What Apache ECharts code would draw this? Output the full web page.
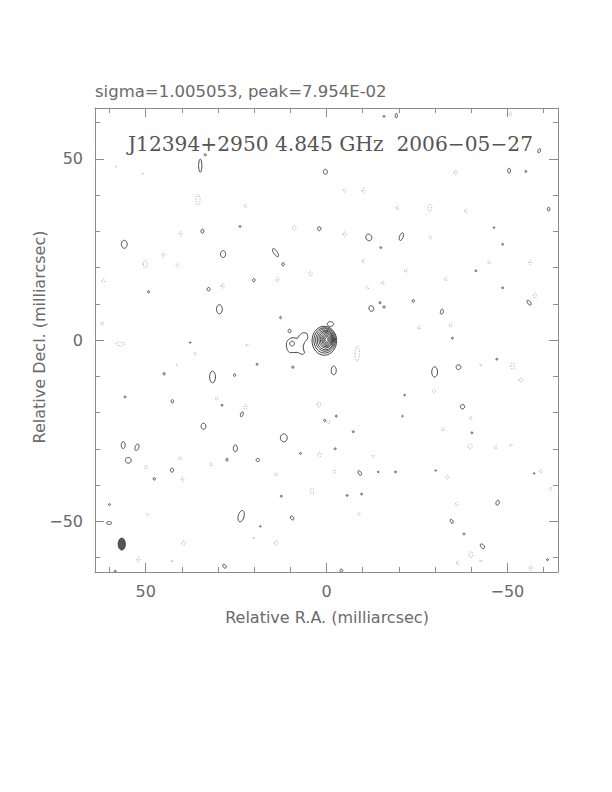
<!DOCTYPE html>
<html><head><meta charset="utf-8">
<script src="https://cdn.jsdelivr.net/npm/echarts@6/dist/echarts.min.js"></script>
<style>html,body{margin:0;padding:0;background:#fff}#c{width:612px;height:792px}</style>
</head><body><div id="c"></div>
<script>
// ---- data (milliarcsec) ----
const axisRange = [-64, 64];
const minorTicks = [-60, -50, -40, -30, -20, -10, 0, 10, 20, 30, 40, 50, 60];
const majorTicks = [-50, 0, 50];
const headerText = 'sigma=1.005053, peak=7.954E-02';
const titleText = 'J12394+2950 4.845 GHz  2006\u221205\u221227';
const xAxisTitle = 'Relative R.A. (milliarcsec)';
const yAxisTitle = 'Relative Decl. (milliarcsec)';

// core contour rings: [RA, Dec, semiRA, semiDec]
const coreRings = [
  [0.6, -0.2, 3.4, 4.0], [0.5, -0.1, 3.0, 3.5], [0.4, 0.0, 2.6, 3.1],
  [0.3, 0.0, 2.25, 2.7], [0.2, 0.1, 1.9, 2.3], [0.1, 0.1, 1.6, 1.95],
  [0.0, 0.1, 1.3, 1.6], [0.0, 0.1, 1.0, 1.25], [0.0, 0.1, 0.7, 0.9], [0.0, 0.1, 0.4, 0.5]
];
// jet outer contour (RA, Dec)
const jetOutline = [
  [5.35, 1.75], [6.29, 2.03], [7.39, 1.38], [8.12, 0.46], [9.23, 0.64], [10.43, 0.18],
  [11.08, -1.01], [10.89, -2.58], [9.97, -3.5], [8.12, -3.41], [6.73, -3.96], [6.09, -3.5],
  [6.46, -2.12], [6.09, -0.74], [5.17, 0.64], [5.35, 1.75]
];
// positive contour blobs: [RA, Dec, semiRA, semiDec, tiltDeg]
const positiveBlobs = [
  [9.5, -1.0, 0.65, 0.65, 0], [-1.1, 4.4, 0.9, 0.65, 0], [10.2, 2.5, 0.4, 0.5, 0],
  [34.9, 48.1, 0.45, 1.8, 0], [33.5, 51.1, 0.3, 0.3, 0], [0.3, 46.4, 0.55, 0.7, 0],
  [34.3, 30.0, 0.4, 0.55, 0], [23.9, 31.3, 0.25, 0.25, 0], [2.0, 30.7, 0.45, 0.55, 0],
  [55.9, 26.4, 0.8, 1.1, 0], [28.6, 23.7, 0.7, 0.95, 0], [14.1, 24.1, 0.5, 1.3, -35],
  [12.0, 20.9, 0.35, 0.45, 0], [20.1, 16.5, 0.35, 0.45, 0], [32.6, 14.0, 0.4, 0.5, 0],
  [49.2, 13.3, 0.25, 0.3, 0], [29.6, 8.5, 0.8, 1.25, 0], [12.7, 6.2, 0.25, 0.3, 0],
  [-15.9, 61.7, 0.25, 0.25, 0], [-19.3, 61.9, 0.3, 0.6, 0], [-58.8, 52.2, 0.35, 0.6, 20],
  [-50.5, 46.7, 0.4, 0.65, 0], [-55.1, 46.5, 0.25, 0.25, 0], [-61.4, 36.1, 0.35, 0.5, 0],
  [-11.7, 28.3, 0.8, 0.95, -20], [-20.7, 28.5, 0.5, 1.1, 20], [-15.0, 25.5, 0.25, 0.25, 0],
  [-46.3, 31.0, 0.2, 0.2, 0], [-48.7, 26.4, 0.25, 0.25, 0], [-41.3, 19.1, 0.25, 0.25, 0],
  [-48.7, 14.4, 0.25, 0.25, 0], [-24.0, 10.8, 0.35, 0.35, 0], [-56.0, 10.3, 0.4, 0.8, -35],
  [-12.4, 8.7, 0.65, 0.8, -20], [-14.8, 10.3, 0.25, 0.3, 0], [-15.9, 9.1, 0.25, 0.35, 0],
  [-31.9, 7.8, 0.4, 0.7, 15], [-34.8, 0.5, 0.25, 0.25, 0],
  [31.5, -10.2, 0.8, 1.6, 0], [44.9, -9.3, 0.3, 0.35, 0], [25.4, -9.7, 0.3, 0.35, 0],
  [19.2, -6.7, 0.25, 0.25, 0], [9.3, -7.5, 0.3, 0.3, 0], [37.7, -0.7, 0.2, 0.2, 0],
  [55.7, -15.7, 0.25, 0.25, 0], [42.6, -16.9, 0.35, 0.45, 0], [28.9, -18.0, 0.25, 0.25, 0],
  [23.4, -20.5, 0.35, 0.7, 20], [0.5, -22.2, 0.3, 0.3, 0], [34.0, -23.8, 0.65, 0.85, 0],
  [11.8, -27.0, 0.95, 1.1, 0], [56.2, -29.0, 0.55, 0.95, 0], [52.4, -29.6, 0.5, 0.95, 20],
  [25.2, -29.9, 0.55, 0.95, 0], [7.2, -31.3, 0.25, 0.25, 0], [54.8, -33.2, 0.8, 0.8, 0],
  [27.5, -33.0, 0.3, 0.4, 0], [19.0, -33.1, 0.45, 0.45, 0], [42.7, -35.9, 0.45, 0.55, 0],
  [47.6, -38.3, 0.3, 0.35, 0], [12.5, -43.1, 0.25, 0.25, 0], [60.0, -45.4, 0.25, 0.25, 0],
  [23.6, -48.6, 0.8, 1.6, 15], [9.5, -49.1, 0.4, 0.6, -35], [18.3, -51.4, 0.2, 0.2, 0],
  [60.1, -50.5, 0.7, 0.4, 0], [28.2, -62.4, 0.4, 0.6, -35], [58.4, -63.8, 0.25, 0.25, 0],
  [-2.0, -8.4, 0.7, 1.2, 0], [-29.9, -8.8, 0.8, 1.4, 0], [-36.5, -7.5, 0.65, 0.65, 0],
  [-47.1, -5.3, 0.25, 0.25, 0], [-21.6, -15.2, 0.2, 0.2, 0], [-37.6, -18.4, 0.6, 0.6, 0],
  [-2.7, -21.0, 0.25, 0.25, 0], [-21.0, -21.0, 0.2, 0.2, 0], [-40.2, -25.6, 0.25, 0.25, 0],
  [-7.4, -25.3, 0.25, 0.25, 0], [-2.4, -30.0, 0.25, 0.25, 0], [-9.2, -36.7, 0.4, 0.7, -30],
  [-14.3, -36.4, 0.2, 0.2, 0], [-19.1, -36.4, 0.25, 0.25, 0], [-30.2, -36.0, 0.2, 0.2, 0],
  [-57.4, -36.8, 0.2, 0.2, 0], [-5.7, -42.9, 0.25, 0.25, 0], [-9.7, -42.5, 0.25, 0.25, 0],
  [-47.3, -44.9, 0.45, 0.7, 15], [-34.6, -50.0, 0.35, 0.6, -30], [-38.0, -53.5, 0.25, 0.25, 0],
  [-43.1, -56.9, 0.45, 0.75, -40], [-61.1, -60.6, 0.25, 0.25, 0], [-4.1, -63.6, 0.4, 0.4, 0]
];
// negative (dotted) contour blobs
const negativeBlobs = [
  [35.5, 38.7, 0.55, 1.4, 0], [22.4, 37.0, 0.3, 0.5, 0], [8.9, 31.0, 0.45, 0.6, 0],
  [40.3, 29.3, 0.35, 0.6, 0], [45.1, 23.5, 0.35, 0.6, 0], [50.1, 20.9, 0.55, 1.1, 0],
  [41.2, 20.7, 0.35, 0.55, 0], [4.4, 18.3, 0.45, 0.7, 0], [13.5, 16.6, 0.4, 0.6, 0],
  [61.7, 16.3, 0.4, 0.5, 0], [28.7, 14.9, 0.4, 0.6, 0], [61.9, 4.5, 0.4, 0.4, 0],
  [58.2, 47.9, 0.2, 0.2, 0], [50.8, 45.9, 0.2, 0.2, 0],
  [-50.8, 62.3, 0.3, 0.6, 0], [-35.7, 46.2, 0.4, 0.6, 0], [-5.0, 41.2, 0.3, 0.4, 0],
  [-10.2, 41.2, 0.4, 0.6, 0], [-28.6, 36.4, 0.5, 1.0, 0], [-19.6, 36.4, 0.3, 0.5, 0],
  [-38.5, 35.6, 0.3, 0.5, 0], [-5.0, 29.2, 0.4, 0.6, 0], [-28.8, 28.3, 0.3, 0.3, 0],
  [-10.2, 21.8, 0.3, 0.5, 0], [-45.0, 21.4, 0.35, 0.5, 0], [-56.3, 21.4, 0.35, 0.6, 0],
  [-21.9, 19.1, 0.3, 0.5, 0], [-33.0, 16.8, 0.3, 0.5, 0], [-15.6, 15.8, 0.3, 0.5, 0],
  [-11.3, 14.4, 0.35, 0.5, 0], [-57.6, 12.2, 0.4, 0.7, 0], [-34.3, 4.1, 0.3, 0.5, 0],
  [-25.6, 3.4, 0.3, 0.5, 0],
  [22.0, -1.4, 0.3, 0.3, 0], [36.3, -3.8, 0.3, 0.4, 0], [57.0, -1.1, 1.2, 0.5, 0],
  [41.4, -6.9, 0.2, 0.2, 0], [30.3, -16.1, 0.35, 0.5, 0], [22.4, -18.5, 0.4, 0.7, 0],
  [2.1, -17.8, 0.5, 0.7, 0], [-0.6, -22.7, 0.35, 0.35, 0], [1.9, -31.6, 0.5, 0.6, 0],
  [40.4, -32.7, 0.35, 0.5, 0], [31.9, -34.3, 0.35, 0.5, 0], [49.9, -35.1, 0.35, 0.5, 0],
  [39.8, -38.5, 0.35, 0.6, 0], [13.9, -37.1, 0.35, 0.5, 0], [4.0, -41.7, 0.45, 0.9, 0],
  [49.5, -48.2, 0.3, 0.4, 0], [39.5, -56.0, 0.45, 0.6, 0], [20.1, -54.6, 0.2, 0.3, 0],
  [13.9, -56.0, 0.45, 0.6, 0], [52.0, -60.6, 0.4, 0.6, 0], [42.7, -61.0, 0.2, 0.3, 0],
  [-8.5, -3.8, 0.6, 2.0, 0], [-51.4, -7.2, 0.5, 0.9, 0], [-53.7, -11.1, 0.5, 0.5, 0],
  [-42.7, -6.9, 0.3, 0.3, 0], [-29.7, -14.1, 0.45, 0.5, 0], [-39.9, -21.5, 0.3, 0.5, 0],
  [-32.3, -24.7, 0.35, 0.5, 0], [-39.7, -29.3, 0.6, 0.7, 0], [-46.8, -29.6, 0.35, 0.5, 0],
  [-51.0, -29.0, 0.3, 0.3, 0], [-12.9, -32.0, 0.4, 0.3, 0], [-2.2, -36.2, 0.35, 0.35, 0],
  [-33.4, -37.8, 0.45, 0.5, 0], [-59.3, -36.2, 0.4, 0.4, 0], [-9.0, -48.0, 0.3, 0.4, 0],
  [-36.0, -45.2, 0.35, 0.5, 0], [-39.9, -59.2, 0.5, 0.8, 0], [-36.2, -61.5, 0.3, 0.5, 0],
  [-42.7, -60.9, 0.3, 0.3, 0], [-56.5, -62.9, 0.4, 0.6, 0], [-62.0, -41.0, 0.3, 0.4, 0]
];
// restoring beam
const beam = [[56.6, -56.3, 1.0, 1.65, 0]];

// ---- rendering ----
const chart = echarts.init(document.getElementById('c'), null, {renderer: 'svg', width: 612, height: 792});
const G = {left: 95, top: 108, width: 463, height: 464};
const frameColor = '#8c8c8c';
const textColor = '#6a6a6a';
const fmt = v => v < 0 ? '\u2212' + (-v) : String(v);

function ellipseRenderer(style) {
  return function (params, api) {
    const ra = api.value(0), dec = api.value(1), a = api.value(2), b = api.value(3);
    const th = api.value(4) * Math.PI / 180;
    const pts = [];
    const N = 32;
    for (let i = 0; i < N; i++) {
      const t = 2 * Math.PI * i / N;
      const x = ra + a * Math.cos(t) * Math.cos(th) - b * Math.sin(t) * Math.sin(th);
      const y = dec + a * Math.cos(t) * Math.sin(th) + b * Math.sin(t) * Math.cos(th);
      pts.push(api.coord([x, y]));
    }
    return {type: 'polygon', shape: {points: pts}, style: Object.assign({}, style)};
  };
}
function ellSeries(name, data, style) {
  return {
    type: 'custom', name, xAxisIndex: 0, yAxisIndex: 0, clip: true,
    dimensions: ['ra', 'dec', 'a', 'b', 'ang'], encode: {x: 0, y: 1},
    data, renderItem: ellipseRenderer(style), silent: true
  };
}
function xAx(grid, pos, ticks, len, line, labels) {
  return {
    type: 'value', gridIndex: grid, position: pos, inverse: true,
    min: axisRange[0], max: axisRange[1],
    axisLine: {show: line, onZero: false, lineStyle: {color: frameColor, width: 1}},
    axisTick: {show: true, inside: true, length: len, customValues: ticks, lineStyle: {color: frameColor, width: 1}},
    axisLabel: labels ? {show: true, customValues: majorTicks, formatter: fmt, color: textColor,
      fontFamily: 'DejaVu Sans', fontSize: 16, margin: 11} : {show: false},
    splitLine: {show: false}
  };
}
function yAx(grid, pos, ticks, len, line, labels) {
  return {
    type: 'value', gridIndex: grid, position: pos,
    min: axisRange[0], max: axisRange[1],
    axisLine: {show: line, onZero: false, lineStyle: {color: frameColor, width: 1}},
    axisTick: {show: true, inside: true, length: len, customValues: ticks, lineStyle: {color: frameColor, width: 1}},
    axisLabel: labels ? {show: true, customValues: majorTicks, formatter: fmt, color: textColor,
      fontFamily: 'DejaVu Sans', fontSize: 16, margin: 12} : {show: false},
    splitLine: {show: false}
  };
}

chart.setOption({
  animation: false,
  backgroundColor: '#ffffff',
  grid: [Object.assign({}, G), Object.assign({}, G)],
  xAxis: [
    xAx(0, 'bottom', minorTicks, 5, true, true),
    xAx(0, 'top', minorTicks, 5, true, false),
    xAx(1, 'bottom', majorTicks, 9, false, false),
    xAx(1, 'top', majorTicks, 9, false, false)
  ],
  yAxis: [
    yAx(0, 'left', minorTicks, 5, true, true),
    yAx(0, 'right', minorTicks, 5, true, false),
    yAx(1, 'left', majorTicks, 9, false, false),
    yAx(1, 'right', majorTicks, 9, false, false)
  ],
  graphic: [
    {type: 'text', left: 95, top: 83, silent: true,
      style: {text: headerText, fill: textColor, font: '16.5px "DejaVu Sans"'}},
    {type: 'text', left: 128, top: 134, silent: true,
      style: {text: titleText, fill: '#555555', font: '20.2px "DejaVu Serif"'}},
    {type: 'text', x: 327, y: 617, silent: true,
      style: {text: xAxisTitle, fill: textColor, font: '16px "DejaVu Sans"', align: 'center', verticalAlign: 'middle'}},
    {type: 'text', x: 39, y: 337, rotation: Math.PI / 2, silent: true,
      style: {text: yAxisTitle, fill: textColor, font: '16px "DejaVu Sans"', align: 'center', verticalAlign: 'middle'}}
  ],
  series: [
    ellSeries('core', coreRings.map(r => [r[0], r[1], r[2], r[3], 0]), {fill: 'none', stroke: '#2a2a2a', lineWidth: 0.9}),
    {
      type: 'line', name: 'jet', xAxisIndex: 0, yAxisIndex: 0, data: jetOutline,
      smooth: 0.35, showSymbol: false, silent: true,
      lineStyle: {color: '#333', width: 0.9}
    },
    ellSeries('positive', positiveBlobs, {fill: 'none', stroke: '#333', lineWidth: 0.9}),
    ellSeries('negative', negativeBlobs, {fill: 'none', stroke: '#888', lineWidth: 0.8, lineDash: [1, 1.6]}),
    ellSeries('beam', beam, {fill: '#555', stroke: '#333', lineWidth: 0.8})
  ]
});
</script>
</body></html>
